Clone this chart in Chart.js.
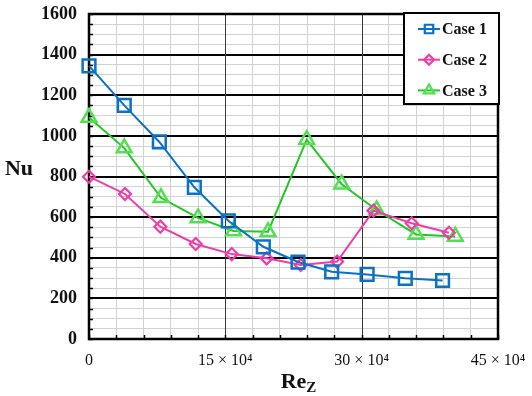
<!DOCTYPE html>
<html>
<head>
<meta charset="utf-8">
<script src="https://cdn.jsdelivr.net/npm/chart.js@4"></script>
<style>
html,body{margin:0;padding:0;background:#fff;}
canvas{display:block;}
</style>
</head>
<body>
<canvas id="c" width="532" height="396"></canvas>
<script>
// ---- data ----
const seriesNames = ['Case 1', 'Case 2', 'Case 3'];
const case1X = [0, 38800, 77400, 115900, 153300, 191800, 230000, 267000, 306000, 348000, 389000];
const case1Y = [1345, 1150, 970, 747, 582, 454, 379, 331, 318, 299, 288];
const case2X = [0, 39600, 78500, 117400, 157000, 195500, 233000, 273000, 313000, 355000, 396000];
const case2Y = [799, 714, 553, 468, 418, 397, 364, 381, 632, 570, 523];
const case3X = [0, 38800, 79200, 120000, 159000, 197000, 239500, 278000, 316500, 359800, 403000];
const case3Y = [1090, 940, 695, 596, 532, 528, 981, 762, 635, 515, 505];
const yMajorTicks = [0, 200, 400, 600, 800, 1000, 1200, 1400, 1600];
const xMajorTicks = [0, 150000, 300000, 450000];
const xTickLabels = ['0', '15 × 10⁴', '30 × 10⁴', '45 × 10⁴'];

function pts(xs, ys) { return xs.map((x, i) => ({x: x, y: ys[i]})); }

const SERIF = '"Liberation Serif", "DejaVu Serif", serif';

const datasets = [
  {label: seriesNames[0], data: pts(case1X, case1Y), borderColor: '#0A72C4', borderWidth: 2,
   pointStyle: 'rect', pointRadius: 9, pointBorderWidth: 2.5, pointBorderColor: '#0A72C4',
   legendRadius: 6},
  {label: seriesNames[1], data: pts(case2X, case2Y), borderColor: '#F03CA8', borderWidth: 2,
   pointStyle: 'rectRot', pointRadius: 6, pointBorderWidth: 2.2, pointBorderColor: '#F03CA8',
   legendRadius: 5},
  {label: seriesNames[2], data: pts(case3X, case3Y), borderColor: '#22C822', borderWidth: 2,
   pointStyle: 'triangle', pointRadius: 8.5, pointBorderWidth: 2.5, pointBorderColor: '#52E052',
   legendRadius: 6}
];
datasets.forEach(d => {
  d.showLine = true; d.tension = 0; d.fill = false; d.clip = false;
  d.pointBackgroundColor = 'rgba(0,0,0,0)'; d.pointHoverRadius = d.pointRadius;
});

const decorPlugin = {
  id: 'decor',
  beforeDatasetsDraw(chart) {
    const ctx = chart.ctx, a = chart.chartArea;
    const xs = chart.scales.x, ys = chart.scales.y;
    ctx.save();
    // major vertical grid lines (continuous)
    ctx.strokeStyle = '#3a3a3a';
    ctx.lineWidth = 1;
    xMajorTicks.forEach(v => {
      const px = Math.round(xs.getPixelForValue(v)) + 0.5;
      ctx.beginPath(); ctx.moveTo(px, a.top); ctx.lineTo(px, a.bottom); ctx.stroke();
    });
    ctx.strokeStyle = '#000';
    ctx.lineWidth = 1.5;
    // inward minor ticks on left and bottom axes
    ys.ticks.forEach(t => {
      const py = Math.round(ys.getPixelForValue(t.value)) + 0.5;
      ctx.beginPath(); ctx.moveTo(a.left, py); ctx.lineTo(a.left + 4, py); ctx.stroke();
    });
    xs.ticks.forEach(t => {
      const px = Math.round(xs.getPixelForValue(t.value)) + 0.5;
      ctx.beginPath(); ctx.moveTo(px, a.bottom); ctx.lineTo(px, a.bottom - 4); ctx.stroke();
    });
    // plot frame
    ctx.lineWidth = 2.5;
    ctx.strokeRect(a.left, a.top, a.right - a.left, a.bottom - a.top);
    ctx.restore();
  },
  afterDraw(chart) {
    const ctx = chart.ctx, a = chart.chartArea;
    ctx.save();
    // y title
    ctx.fillStyle = '#111';
    ctx.font = 'bold 22px ' + SERIF;
    ctx.textAlign = 'center';
    ctx.textBaseline = 'middle';
    ctx.fillText('Nu', 19, 169);
    // x title with subscript
    ctx.textAlign = 'left';
    ctx.textBaseline = 'alphabetic';
    ctx.font = 'bold 22px ' + SERIF;
    const reW = ctx.measureText('Re').width;
    ctx.font = 'bold 15px ' + SERIF;
    const zW = ctx.measureText('Z').width;
    const cx = (a.left + a.right) / 2 + 5;
    const x0 = cx - (reW + zW) / 2;
    ctx.font = 'bold 22px ' + SERIF;
    ctx.fillText('Re', x0, 388);
    ctx.font = 'bold 15px ' + SERIF;
    ctx.fillText('Z', x0 + reW, 392);
    // legend box
    const bw = 95, bh = 91;
    const bx = a.right - bw + 1, by = a.top - 1;
    ctx.fillStyle = '#fff';
    ctx.fillRect(bx, by, bw, bh);
    ctx.strokeStyle = '#000';
    ctx.lineWidth = 2;
    ctx.strokeRect(bx, by, bw, bh);
    chart.data.datasets.forEach((d, i) => {
      const ly = by + 16 + i * 30.7;
      ctx.strokeStyle = d.borderColor;
      ctx.lineWidth = 2;
      ctx.beginPath(); ctx.moveTo(bx + 14, ly); ctx.lineTo(bx + 36, ly); ctx.stroke();
      ctx.strokeStyle = d.pointBorderColor;
      ctx.fillStyle = 'rgba(0,0,0,0)';
      ctx.lineWidth = 2.2;
      Chart.helpers.drawPoint(ctx, {pointStyle: d.pointStyle, rotation: 0, radius: d.legendRadius, borderWidth: 2.2}, bx + 25, ly);
      ctx.fillStyle = '#111';
      ctx.font = 'bold 16px ' + SERIF;
      ctx.textAlign = 'left';
      ctx.textBaseline = 'middle';
      ctx.fillText(d.label, bx + 38, ly + 1);
    });
    ctx.restore();
  }
};

new Chart(document.getElementById('c'), {
  type: 'scatter',
  data: {datasets: datasets},
  plugins: [decorPlugin],
  options: {
    responsive: false,
    devicePixelRatio: 1,
    animation: false,
    layout: {padding: {top: 14, right: 34, left: 0, bottom: 0}},
    plugins: {legend: {display: false}, tooltip: {enabled: false}},
    scales: {
      x: {
        type: 'linear', min: 0, max: 450000,
        afterFit(s) { s.height = 57; s.paddingLeft = 0; s.paddingRight = 0; },
        ticks: {
          stepSize: 30000, autoSkip: false, maxRotation: 0, padding: 12,
          color: '#111', font: {family: SERIF, size: 16},
          callback(v) { const k = xMajorTicks.indexOf(v); return k >= 0 ? xTickLabels[k] : ''; }
        },
        grid: {
          drawTicks: false,
          color(c) { return (c.tick.value % 150000 === 0) ? 'rgba(0,0,0,0)' : '#d2d2d2'; },
          lineWidth: 1
        },
        border: {display: false}
      },
      y: {
        min: 0, max: 1600,
        afterFit(s) { s.width = 89; s.paddingTop = 0; s.paddingBottom = 0; },
        ticks: {
          stepSize: 50, autoSkip: false, padding: 12,
          color: '#111', font: {family: SERIF, size: 18, weight: 'bold'},
          callback(v) { return yMajorTicks.indexOf(v) >= 0 ? String(v) : ''; }
        },
        grid: {
          drawTicks: false,
          color(c) { return (c.tick.value % 200 === 0) ? '#000' : '#d2d2d2'; },
          lineWidth(c) { return (c.tick.value % 200 === 0) ? 2 : 1; }
        },
        border: {display: false}
      }
    }
  }
});
</script>
</body>
</html>
